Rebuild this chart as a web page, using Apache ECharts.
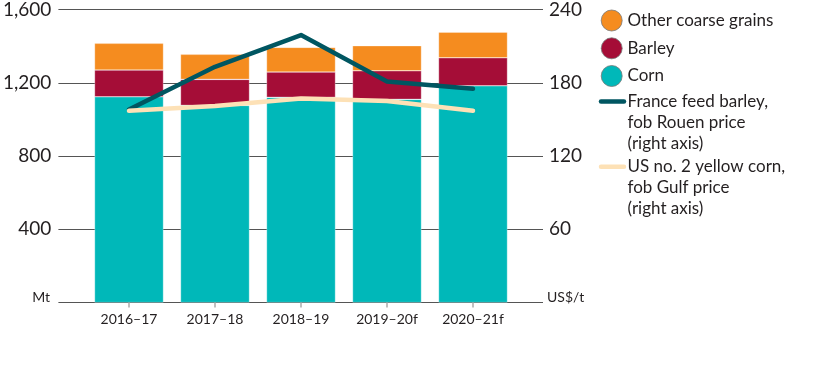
<!DOCTYPE html>
<html><head><meta charset="utf-8">
<script src="https://cdn.jsdelivr.net/npm/echarts@6/dist/echarts.min.js"></script>
<style>html,body{margin:0;padding:0;background:#fff}#c{width:816px;height:366px}</style>
</head><body><div id="c"></div>
<script>
const categories = ['2016–17','2017–18','2018–19','2019–20f','2020–21f'];
const corn = [1123,1076,1120,1109,1183];
const barley = [146,142,138,156,153];
const otherGrains = [146,137,135,137,140];
const franceBarleyPrice = [158,193,219,181,175];
const usCornPrice = [157,161,167,165,157];
const leftTicks = [0,400,800,1200,1600];
const rightTicks = [0,60,120,180,240];

const FONT = 'Lato';
const txt = '#231f20';
const cTeal = '#00b8b9', cMaroon = '#a50d37', cOrange = '#f58c1f', cDark = '#005661', cCream = '#fde1b6';

const chart = echarts.init(document.getElementById('c'));
const gTop = 9.4, gBottom = 366 - 302.6;
chart.setOption({
  animation: false,
  textStyle: {fontFamily: FONT},
  grid: [
    {left: 55, right: 816 - 543, top: gTop, bottom: gBottom},
    {left: 86, right: 816 - 516, top: gTop, bottom: gBottom}
  ],
  xAxis: [
    {gridIndex: 0, type: 'value', show: false, min: 0, max: 1},
    {gridIndex: 1, type: 'category', data: categories,
     axisLine: {show: false},
     axisTick: {show: true, alignWithLabel: true, length: 5, lineStyle: {color: '#aaa', width: 1.5}},
     axisLabel: {color: txt, fontSize: 14, margin: 10, fontFamily: FONT}}
  ],
  yAxis: [
    {gridIndex: 0, type: 'value', position: 'left', min: leftTicks[0], max: leftTicks[leftTicks.length-1], interval: 400,
     axisLine: {show: false}, axisTick: {show: false},
     splitLine: {show: true, lineStyle: {color: '#555', width: 1}},
     axisLabel: {color: txt, fontSize: 19, margin: 7, fontFamily: FONT,
       formatter: v => v === 0 ? '' : v.toLocaleString('en-US')}},
    {gridIndex: 0, type: 'value', position: 'right', min: rightTicks[0], max: rightTicks[rightTicks.length-1], interval: 60,
     axisLine: {show: false}, axisTick: {show: false}, splitLine: {show: false},
     axisLabel: {color: txt, fontSize: 19, margin: 6, fontFamily: FONT,
       formatter: v => v === 0 ? '' : String(v)}},
    {gridIndex: 1, type: 'value', min: 0, max: 1600, show: false},
    {gridIndex: 1, type: 'value', min: 0, max: 240, show: false}
  ],
  series: [
    {name: 'Corn', type: 'bar', stack: 's', xAxisIndex: 1, yAxisIndex: 2, data: corn, barWidth: 69,
     itemStyle: {color: cTeal, borderColor: 'rgba(255,255,255,0.5)', borderWidth: 0.6}},
    {name: 'Barley', type: 'bar', stack: 's', xAxisIndex: 1, yAxisIndex: 2, data: barley, barWidth: 69,
     itemStyle: {color: cMaroon, borderColor: 'rgba(255,255,255,0.5)', borderWidth: 0.6}},
    {name: 'Other coarse grains', type: 'bar', stack: 's', xAxisIndex: 1, yAxisIndex: 2, data: otherGrains, barWidth: 69,
     itemStyle: {color: cOrange, borderColor: 'rgba(255,255,255,0.5)', borderWidth: 0.6}},
    {name: 'France feed barley, fob Rouen price (right axis)', type: 'line', xAxisIndex: 1, yAxisIndex: 3,
     data: franceBarleyPrice, symbol: 'none', lineStyle: {color: cDark, width: 4.5, cap: 'round', join: 'round'}, z: 5},
    {name: 'US no. 2 yellow corn, fob Gulf price (right axis)', type: 'line', xAxisIndex: 1, yAxisIndex: 3,
     data: usCornPrice, symbol: 'none', lineStyle: {color: cCream, width: 4.5, cap: 'round', join: 'round'}, z: 6}
  ],
  graphic: [
    {type: 'text', style: {text: 'Mt', x: 50, y: 297, align: 'right', verticalAlign: 'middle', fill: txt, font: '14px ' + FONT}},
    {type: 'text', style: {text: 'US$/t', x: 547, y: 297, align: 'left', verticalAlign: 'middle', fill: txt, font: '14px ' + FONT}},
    {type: 'circle', shape: {cx: 611.7, cy: 20.5, r: 10.5}, style: {fill: cOrange, stroke: '#777', lineWidth: 0.8}},
    {type: 'text', style: {text: 'Other coarse grains', x: 627.5, y: 20.5, verticalAlign: 'middle', fill: txt, font: '17px ' + FONT}},
    {type: 'circle', shape: {cx: 611.7, cy: 48.3, r: 10.5}, style: {fill: cMaroon, stroke: '#777', lineWidth: 0.8}},
    {type: 'text', style: {text: 'Barley', x: 627.5, y: 48.3, verticalAlign: 'middle', fill: txt, font: '17px ' + FONT}},
    {type: 'circle', shape: {cx: 611.7, cy: 76, r: 10.5}, style: {fill: cTeal, stroke: '#777', lineWidth: 0.8}},
    {type: 'text', style: {text: 'Corn', x: 627.5, y: 76, verticalAlign: 'middle', fill: txt, font: '17px ' + FONT}},
    {type: 'line', shape: {x1: 601, y1: 101.5, x2: 624, y2: 101.5}, style: {stroke: cDark, lineWidth: 4.5, lineCap: 'round'}},
    {type: 'text', style: {text: 'France feed barley,\nfob Rouen price\n(right axis)', x: 627.5, y: 91, lineHeight: 21, verticalAlign: 'top', fill: txt, font: '17px ' + FONT}},
    {type: 'line', shape: {x1: 601, y1: 166.7, x2: 624, y2: 166.7}, style: {stroke: cCream, lineWidth: 4.5, lineCap: 'round'}},
    {type: 'text', style: {text: 'US no. 2 yellow corn,\nfob Gulf price\n(right axis)', x: 627.5, y: 156, lineHeight: 21, verticalAlign: 'top', fill: txt, font: '17px ' + FONT}}
  ]
});
</script></body></html>
